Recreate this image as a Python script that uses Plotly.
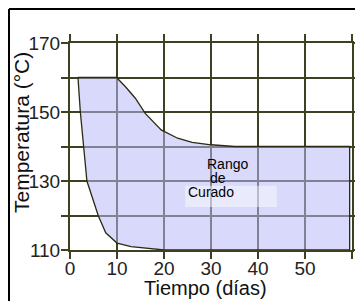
import plotly.graph_objects as go

# Region outline (Tiempo in días, Temperatura in °C), traced clockwise
region_dias = [1.7, 9.9, 11.8, 13.9, 16.0, 19.4, 22.9, 26.0, 30.0, 35.0, 59.5,
               59.5, 20.0, 16.7, 13.0, 10.0, 7.6, 6.0, 4.8, 3.6, 2.9, 2.2, 1.7]
region_temp = [160, 160, 157.3, 154.0, 149.6, 144.8, 142.4, 141.2, 140.5, 140.0, 140,
               110, 110, 110.5, 111, 112, 115, 120, 125, 130, 140, 150, 160]

x_ticks = [0, 10, 20, 30, 40, 50, 60]
x_labels = ["0", "10", "20", "30", "40", "50", ""]
y_ticks = [110, 120, 130, 140, 150, 160, 170]
y_labels = ["110", "", "130", "", "150", "", "170"]

label_lines = ["Rango", "de", "Curado"]
label_x = [33.5, 31.4, 30.0]
label_y = [134.8, 130.9, 126.8]

GRID = "#3f3f22"
FONT = "Liberation Sans, Arial, sans-serif"

fig = go.Figure()
fig.add_trace(go.Scatter(
    x=region_dias, y=region_temp, mode="lines", fill="toself",
    fillcolor="rgba(186,186,248,0.55)",
    line=dict(color="#2a2a14", width=1.3),
    hoverinfo="skip", showlegend=False,
))

axis_common = dict(
    showgrid=True, gridcolor=GRID, gridwidth=2,
    showline=True, linecolor=GRID, linewidth=2, mirror="ticks",
    ticks="outside", ticklen=7, tickwidth=2, tickcolor=GRID,
    zeroline=False, automargin=False,
    tickfont=dict(family=FONT, size=19, color="#222222"),
)

fig.update_xaxes(range=[0, 60], tickmode="array", tickvals=x_ticks,
                 ticktext=x_labels, ticklabelstandoff=-7, **axis_common)
fig.update_yaxes(range=[110, 170], tickmode="array", tickvals=y_ticks,
                 ticktext=y_labels, ticklabelstandoff=-3, **axis_common)

# page body adds an 8px offset; the plot area spans 282x207 px
PW, PH = 282, 207
L, T = 70, 43  # plot-area top-left in window px

annotations = []
for t, xx, yy in zip(label_lines, label_x, label_y):
    annotations.append(dict(x=xx, y=yy, xref="x", yref="y", text=t,
                            showarrow=False, xanchor="center", yanchor="middle",
                            font=dict(family=FONT, size=14, color="#000000")))
annotations.append(dict(x=(205 - L) / PW, y=-(288 - (T + PH)) / PH,
                        xref="paper", yref="paper", text="Tiempo (días)",
                        showarrow=False, xanchor="center", yanchor="middle",
                        font=dict(family=FONT, size=20, color="#111111")))
annotations.append(dict(x=(21 - L) / PW, y=((T + PH) - 133) / PH,
                        xref="paper", yref="paper", text="Temperatura (°C)",
                        textangle=-90, showarrow=False,
                        xanchor="center", yanchor="middle",
                        font=dict(family=FONT, size=21, color="#111111")))

frame_x = (9 - L) / PW
frame_y = 1 + (T - 9) / PH
shapes = [
    dict(type="rect", xref="x", yref="y", x0=24.5, x1=44, y0=122.5, y1=128.6,
         fillcolor="rgba(255,255,255,0.45)", line=dict(width=0), layer="above"),
    dict(type="line", xref="paper", yref="paper",
         x0=frame_x, x1=1.2, y0=frame_y, y1=frame_y,
         line=dict(color="#000000", width=2)),
    dict(type="line", xref="paper", yref="paper",
         x0=frame_x, x1=frame_x, y0=frame_y, y1=-0.4,
         line=dict(color="#000000", width=2)),
]

fig.update_layout(
    width=355, height=293,
    margin=dict(l=L - 8, r=11, t=T - 8, b=293 - (T - 8) - PH, autoexpand=False),
    paper_bgcolor="white", plot_bgcolor="white",
    annotations=annotations, shapes=shapes,
    showlegend=False,
)

fig.write_html("out.html")
